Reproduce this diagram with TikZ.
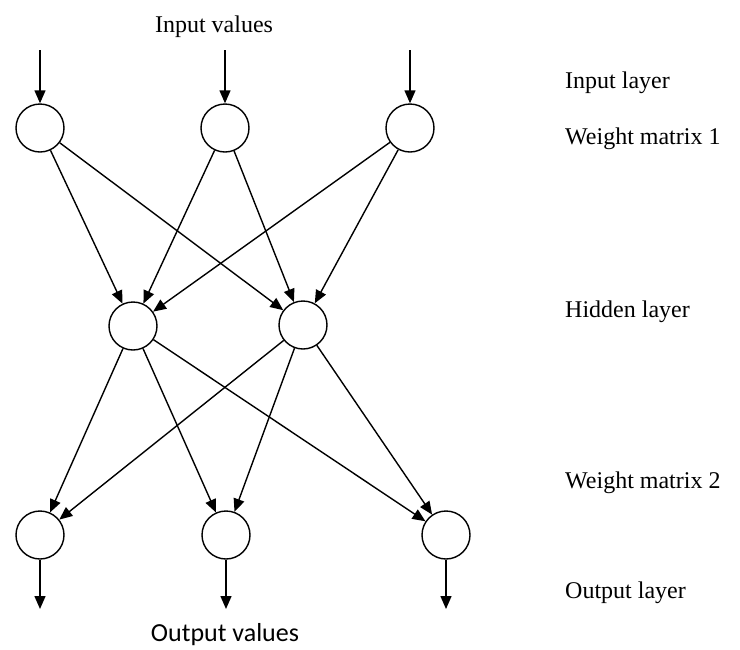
\documentclass[tikz,border=0pt]{standalone}
\usepackage{fontspec}
\setmainfont{Liberation Serif}
\newfontfamily\calib{Carlito}
\usetikzlibrary{arrows.meta}
\begin{document}
\begin{tikzpicture}[x=1pt,y=-1pt,
  neuron/.style={circle,draw,line width=1.4pt,minimum size=48pt,inner sep=0pt},
  conn/.style={line width=1.4pt,-{Triangle[length=13pt,width=11pt]}},
  lbl/.style={anchor=base west,inner sep=0pt,font=\fontsize{24}{28}\selectfont}]
\useasboundingbox (0,0) rectangle (740,649);
% nodes
\node[neuron] (i1) at (40,128) {};
\node[neuron] (i2) at (225,128) {};
\node[neuron] (i3) at (410,128) {};
\node[neuron] (h1) at (133,326) {};
\node[neuron] (h2) at (303,325) {};
\node[neuron] (o1) at (40,535) {};
\node[neuron] (o2) at (226,535) {};
\node[neuron] (o3) at (446,535) {};
% free ends
\coordinate (a1) at (40,50);
\coordinate (a2) at (225,50);
\coordinate (a3) at (410,50);
\coordinate (b1) at (40,609);
\coordinate (b2) at (226,609);
\coordinate (b3) at (446,609);
% input arrows
\draw[conn] (a1) -- (i1);
\draw[conn] (a2) -- (i2);
\draw[conn] (a3) -- (i3);
% weight matrix 1
\foreach \i in {i1,i2,i3}{
  \draw[conn] (\i) -- (h1);
  \draw[conn] (\i) -- (h2);
}
% weight matrix 2
\foreach \h in {h1,h2}{
  \draw[conn] (\h) -- (o1);
  \draw[conn] (\h) -- (o2);
  \draw[conn] (\h) -- (o3);
}
% output arrows
\draw[conn] (o1) -- (b1);
\draw[conn] (o2) -- (b2);
\draw[conn] (o3) -- (b3);
% texts
\node[anchor=base,inner sep=0pt,font=\fontsize{24}{28}\selectfont] (tin) at (214,32) {Input values};
\node[anchor=base,inner sep=0pt,font=\calib\fontsize{26}{30}\selectfont] (tout) at (225,641) {Output values};
\node[lbl] (l1) at (565,88) {Input layer};
\node[lbl] (l2) at (565,144) {Weight matrix 1};
\node[lbl] (l3) at (565,317) {Hidden layer};
\node[lbl] (l4) at (565,488) {Weight matrix 2};
\node[lbl] (l5) at (565,598) {Output layer};
\end{tikzpicture}
\end{document}
